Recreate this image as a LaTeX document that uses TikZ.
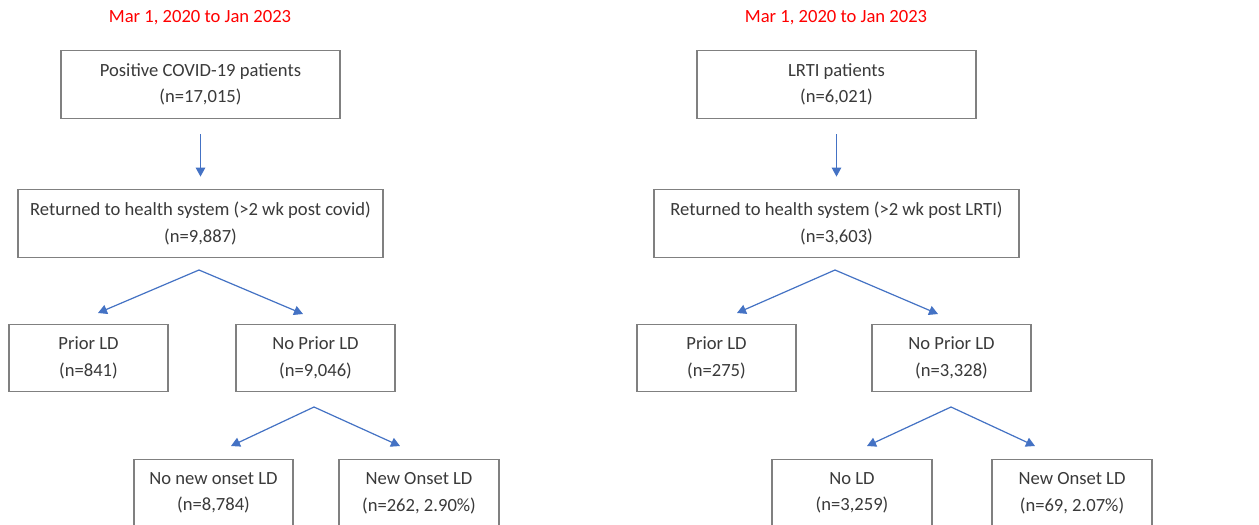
\documentclass[tikz,border=0pt]{standalone}
\usepackage{fontspec}
\setmainfont{Carlito}
\usetikzlibrary{arrows.meta}
\definecolor{boxline}{HTML}{808080}
\definecolor{txt}{HTML}{3A3A3A}
\definecolor{arr}{HTML}{4472C4}
\definecolor{ttl}{HTML}{FF0000}
\begin{document}
\begin{tikzpicture}[x=1pt,y=-1pt,
  box/.style={draw=boxline, line width=1.3pt, fill=white, inner sep=0pt, align=center,
    text=txt, font=\fontsize{18.6}{26.5}\selectfont, minimum height=67.5pt},
  ttlstyle/.style={text=ttl, font=\fontsize{18.6}{22}\selectfont, inner sep=0pt},
  arrow/.style={draw=arr, line width=1.2pt, -{Triangle[length=9pt,width=9.5pt]}}]
\useasboundingbox (0,0) rectangle (1259,525);
\clip (0,0) rectangle (1259,525);
\fill[white] (0,0) rectangle (1259,525);
% titles
\node[ttlstyle] (tl) at (200,18) {Mar 1, 2020 to Jan 2023};
\node[ttlstyle] (tr) at (836,18) {Mar 1, 2020 to Jan 2023};
% left tree
\node[box, minimum width=279pt] (L1) at (200.5,84.5) {Positive COVID-19 patients\\(n=17,015)};
\node[box, minimum width=365pt] (L2) at (200.5,223.5) {Returned to health system (>2 wk post covid)\\(n=9,887)};
\node[box, minimum width=159pt] (L3) at (88.5,358) {Prior LD\\(n=841)};
\node[box, minimum width=159pt] (L4) at (315.5,358) {No Prior LD\\(n=9,046)};
\node[box, minimum width=159pt] (L5) at (213.5,493) {No new onset LD\\(n=8,784)};
\node[box, minimum width=160pt] (L6) at (419,493) {New Onset LD\\(n=262, 2.90\%)};
% right tree
\node[box, minimum width=279pt] (R1) at (836.5,84.5) {LRTI patients\\(n=6,021)};
\node[box, minimum width=365pt] (R2) at (836.5,223.5) {Returned to health system (>2 wk post LRTI)\\(n=3,603)};
\node[box, minimum width=159pt] (R3) at (716.5,358) {Prior LD\\(n=275)};
\node[box, minimum width=159pt] (R4) at (951.5,358) {No Prior LD\\(n=3,328)};
\node[box, minimum width=160pt] (R5) at (852,493) {No LD\\(n=3,259)};
\node[box, minimum width=160pt] (R6) at (1072,493) {New Onset LD\\(n=69, 2.07\%)};
% branch points
\coordinate (La) at (199,270);
\coordinate (La1) at (98,313);
\coordinate (La2) at (303,314);
\coordinate (Lb) at (314,407);
\coordinate (Lb1) at (231,446);
\coordinate (Lb2) at (400,446);
\coordinate (Ra) at (835,270);
\coordinate (Ra1) at (737,313);
\coordinate (Ra2) at (938,314);
\coordinate (Rb) at (951,407);
\coordinate (Rb1) at (867,446);
\coordinate (Rb2) at (1035,446);
% connectors
\draw[arrow, shorten <=15.5pt, shorten >=12.5pt] (L1) -- (L2);
\draw[arrow, shorten <=15.5pt, shorten >=12.5pt] (R1) -- (R2);
\draw[arrow] (La) -- (La1);
\draw[arrow] (La) -- (La2);
\draw[arrow] (Lb) -- (Lb1);
\draw[arrow] (Lb) -- (Lb2);
\draw[arrow] (Ra) -- (Ra1);
\draw[arrow] (Ra) -- (Ra2);
\draw[arrow] (Rb) -- (Rb1);
\draw[arrow] (Rb) -- (Rb2);
\end{tikzpicture}
\end{document}
